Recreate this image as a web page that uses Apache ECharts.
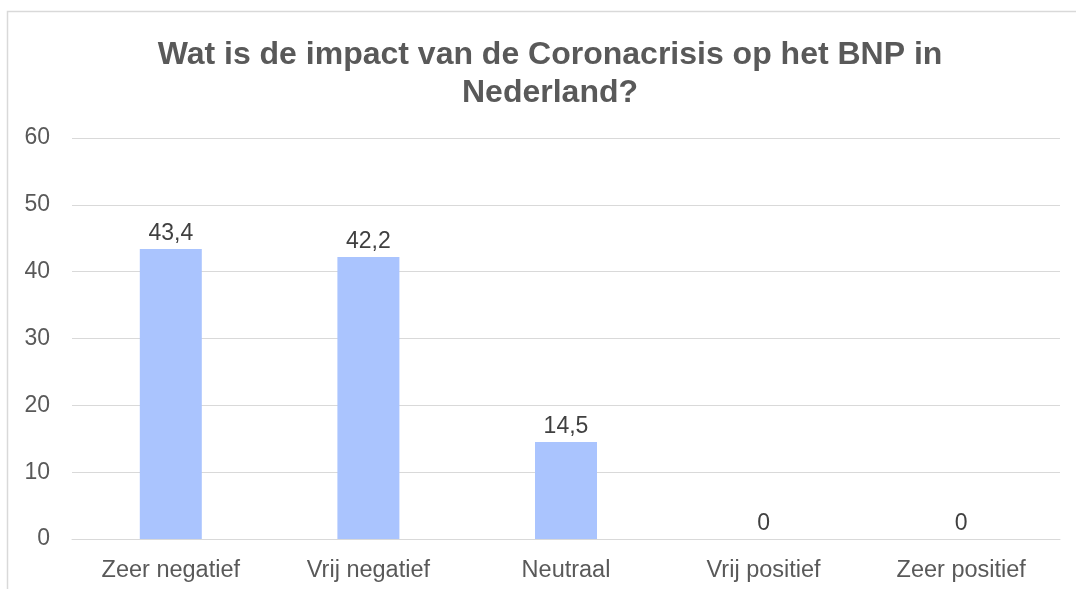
<!DOCTYPE html>
<html>
<head>
<meta charset="utf-8">
<script src="https://cdn.jsdelivr.net/npm/echarts@6/dist/echarts.min.js"></script>
<style>
html,body{margin:0;padding:0;background:#fff;}
#chart{width:1076px;height:589px;}
</style>
</head>
<body>
<div id="chart"></div>
<script>
var categories = ['Zeer negatief', 'Vrij negatief', 'Neutraal', 'Vrij positief', 'Zeer positief'];
var values = [43.4, 42.2, 14.5, 0, 0];
var titleText = 'Wat is de impact van de Coronacrisis op het BNP in\nNederland?';

var chart = echarts.init(document.getElementById('chart'));
chart.setOption({
  animation: false,
  backgroundColor: '#ffffff',
  graphic: [{
    type: 'rect',
    shape: { x: 7.5, y: 11.5, width: 1100, height: 600 },
    style: { fill: 'none', stroke: '#d9d9d9', lineWidth: 1.5 },
    silent: true, z: -1
  }],
  title: {
    text: titleText,
    left: 545,
    top: 31,
    textAlign: 'center',
    textStyle: {
      fontFamily: 'Liberation Sans, Arial, sans-serif',
      fontSize: 32,
      fontWeight: 'bold',
      color: '#595959',
      lineHeight: 38
    }
  },
  grid: { left: 72, right: 16, top: 138, bottom: 50, containLabel: false },
  xAxis: {
    type: 'category',
    data: categories,
    axisLine: { show: true, lineStyle: { color: '#d9d9d9', width: 1 } },
    axisTick: { show: false },
    axisLabel: {
      margin: 20,
      fontFamily: 'Liberation Sans, Arial, sans-serif',
      fontSize: 23.5,
      color: '#595959'
    }
  },
  yAxis: {
    type: 'value',
    min: 0, max: 60, interval: 10,
    axisLine: { show: false },
    axisTick: { show: false },
    splitLine: { lineStyle: { color: '#d9d9d9', width: 1 } },
    axisLabel: {
      margin: 22,
      fontFamily: 'Liberation Sans, Arial, sans-serif',
      fontSize: 23,
      color: '#595959'
    }
  },
  series: [{
    type: 'bar',
    data: values,
    barWidth: 62,
    itemStyle: { color: '#aac4fe' },
    label: {
      show: true,
      position: 'top',
      distance: 4,
      fontFamily: 'Liberation Sans, Arial, sans-serif',
      fontSize: 23,
      color: '#404040',
      formatter: function (p) { return String(p.value).replace('.', ','); }
    }
  }]
});
</script>
</body>
</html>
